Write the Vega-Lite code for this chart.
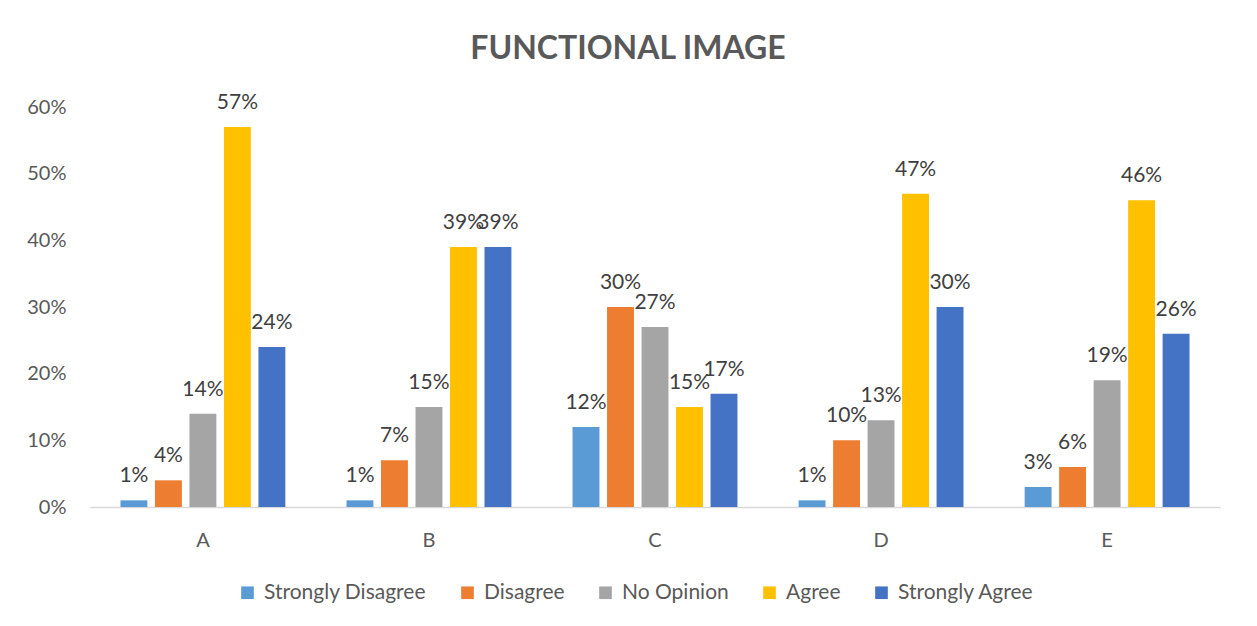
{
  "$schema": "https://vega.github.io/schema/vega-lite/v6.json",
  "width": 1130,
  "height": 400,
  "autosize": {"type": "none"},
  "padding": {"left": 90, "top": 107, "right": 37, "bottom": 119},
  "background": "white",
  "title": {
    "text": "FUNCTIONAL IMAGE",
    "anchor": "middle",
    "dx": -27,
    "offset": 26,
    "fontSize": 32,
    "fontWeight": "bold",
    "font": "Lato",
    "color": "#595959"
  },
  "data": {
    "values": [
      {"item": "A", "response": "Strongly Disagree", "share": 0.01},
      {"item": "A", "response": "Disagree", "share": 0.04},
      {"item": "A", "response": "No Opinion", "share": 0.14},
      {"item": "A", "response": "Agree", "share": 0.57},
      {"item": "A", "response": "Strongly Agree", "share": 0.24},
      {"item": "B", "response": "Strongly Disagree", "share": 0.01},
      {"item": "B", "response": "Disagree", "share": 0.07},
      {"item": "B", "response": "No Opinion", "share": 0.15},
      {"item": "B", "response": "Agree", "share": 0.39},
      {"item": "B", "response": "Strongly Agree", "share": 0.39},
      {"item": "C", "response": "Strongly Disagree", "share": 0.12},
      {"item": "C", "response": "Disagree", "share": 0.30},
      {"item": "C", "response": "No Opinion", "share": 0.27},
      {"item": "C", "response": "Agree", "share": 0.15},
      {"item": "C", "response": "Strongly Agree", "share": 0.17},
      {"item": "D", "response": "Strongly Disagree", "share": 0.01},
      {"item": "D", "response": "Disagree", "share": 0.10},
      {"item": "D", "response": "No Opinion", "share": 0.13},
      {"item": "D", "response": "Agree", "share": 0.47},
      {"item": "D", "response": "Strongly Agree", "share": 0.30},
      {"item": "E", "response": "Strongly Disagree", "share": 0.03},
      {"item": "E", "response": "Disagree", "share": 0.06},
      {"item": "E", "response": "No Opinion", "share": 0.19},
      {"item": "E", "response": "Agree", "share": 0.46},
      {"item": "E", "response": "Strongly Agree", "share": 0.26}
    ]
  },
  "encoding": {
    "x": {
      "field": "item",
      "type": "nominal",
      "scale": {"paddingInner": 0.237, "paddingOuter": 0.118},
      "axis": {
        "title": null,
        "labelAngle": 0,
        "ticks": false,
        "domainColor": "#D9D9D9",
        "domainWidth": 1.5,
        "labelPadding": 23,
        "labelFontSize": 20,
        "labelFont": "Lato",
        "labelColor": "#595959"
      }
    },
    "xOffset": {
      "field": "response",
      "type": "nominal",
      "sort": ["Strongly Disagree", "Disagree", "No Opinion", "Agree", "Strongly Agree"],
      "scale": {"paddingInner": 0.22, "paddingOuter": 0.11}
    },
    "y": {
      "field": "share",
      "type": "quantitative",
      "scale": {"domain": [0, 0.6], "nice": false},
      "axis": {
        "title": null,
        "format": ".0%",
        "values": [0, 0.1, 0.2, 0.3, 0.4, 0.5, 0.6],
        "labelOverlap": false,
        "grid": false,
        "domain": false,
        "ticks": false,
        "labelPadding": 24,
        "labelFontSize": 20,
        "labelFont": "Lato",
        "labelColor": "#595959"
      }
    }
  },
  "layer": [
    {
      "mark": {"type": "bar"},
      "encoding": {
        "color": {
          "field": "response",
          "type": "nominal",
          "sort": ["Strongly Disagree", "Disagree", "No Opinion", "Agree", "Strongly Agree"],
          "scale": {
            "domain": ["Strongly Disagree", "Disagree", "No Opinion", "Agree", "Strongly Agree"],
            "range": ["#5B9BD5", "#ED7D31", "#A5A5A5", "#FFC000", "#4472C4"]
          },
          "legend": {
            "title": null,
            "orient": "none",
            "direction": "horizontal",
            "legendX": 147,
            "legendY": 475,
            "symbolType": "square",
            "symbolSize": 160,
            "symbolStrokeWidth": 0,
            "symbolOpacity": 1,
            "labelFontSize": 21,
            "labelFont": "Lato",
            "labelColor": "#595959",
            "labelOffset": 6,
            "columnPadding": 30,
            "labelLimit": 300
          }
        }
      }
    },
    {
      "mark": {
        "type": "text",
        "baseline": "alphabetic",
        "dy": -18,
        "fontSize": 21,
        "font": "Lato",
        "color": "#404040"
      },
      "encoding": {
        "text": {"field": "share", "type": "quantitative", "format": ".0%"}
      }
    }
  ],
  "config": {
    "view": {"stroke": null}
  }
}
